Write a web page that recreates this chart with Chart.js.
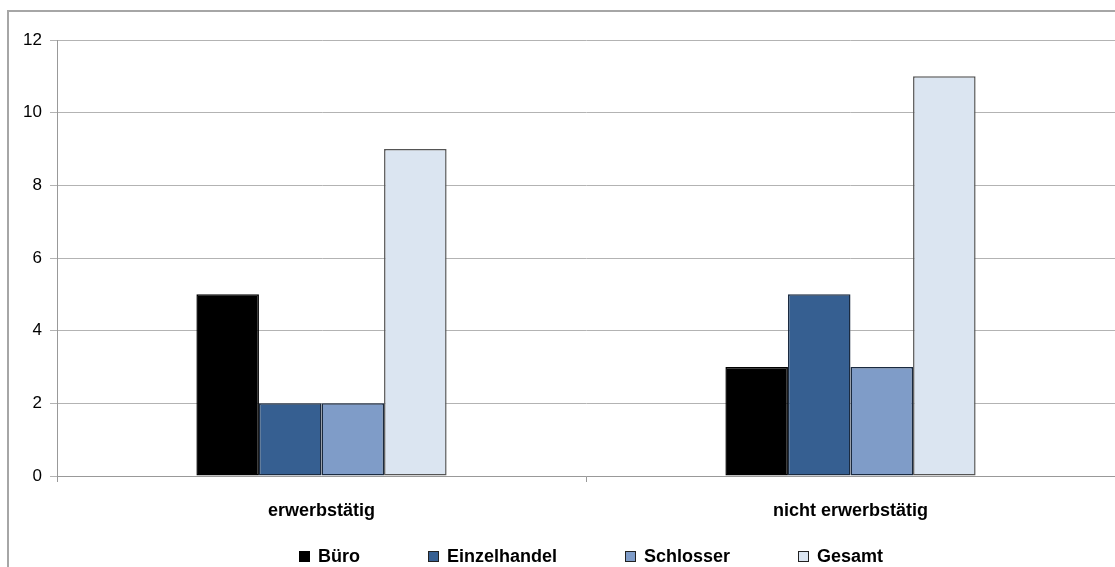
<!DOCTYPE html>
<html>
<head>
<meta charset="utf-8">
<script src="https://cdn.jsdelivr.net/npm/chart.js@4/dist/chart.umd.min.js"></script>
<style>
  html, body { margin: 0; padding: 0; background: #fff; overflow: hidden; }
  #wrap { position: relative; width: 1115px; height: 567px; overflow: hidden; }
  #frame { position: absolute; left: 7px; top: 10px; width: 1200px; height: 600px;
           border-left: 2px solid #a6a6a6; border-top: 2px solid #a6a6a6; }
  #chart { position: absolute; left: 0; top: 0; }
  #legend { position: absolute; left: 299px; top: 545px; display: flex; gap: 68px;
            font: bold 18px "Liberation Sans", Arial, sans-serif; color: #000; }
  #legend .item { display: flex; align-items: center; line-height: 22px; }
  #legend .box { width: 9px; height: 9px; border: 1px solid #222; margin-right: 8px; }
</style>
</head>
<body>
<div id="wrap">
  <div id="frame"></div>
  <canvas id="chart" width="1179" height="567"></canvas>
  <div id="legend"></div>
</div>
<script>
// Kategorien und Werte
const categories = ['erwerbstätig', 'nicht erwerbstätig'];
const seriesNames = ['Büro', 'Einzelhandel', 'Schlosser', 'Gesamt'];
const bueroValues = [5, 3];
const einzelhandelValues = [2, 5];
const schlosserValues = [2, 3];
const gesamtValues = [9, 11];
const yTicks = [0, 2, 4, 6, 8, 10, 12];

const fillColors = ['#000000', '#365f91', '#7f9cc8', '#dbe5f1'];
const edgeColors = ['#000000', '#1a2a40', '#1a2a40', '#555555'];

const allValues = [bueroValues, einzelhandelValues, schlosserValues, gesamtValues];
const FONT = '"Liberation Sans", Arial, sans-serif';

const datasets = seriesNames.map((name, i) => ({
  label: name,
  data: allValues[i],
  backgroundColor: fillColors[i],
  borderColor: edgeColors[i],
  borderWidth: 1.5,
  borderSkipped: false,
  barPercentage: 1,
  categoryPercentage: 0.473
}));

const chart = new Chart(document.getElementById('chart'), {
  type: 'bar',
  data: { labels: categories, datasets },
  options: {
    responsive: false,
    animation: false,
    devicePixelRatio: 1,
    layout: { padding: { top: 40, right: 64, left: 0, bottom: 0 } },
    plugins: { legend: { display: false }, tooltip: { enabled: false } },
    scales: {
      x: {
        offset: true,
        grid: { offset: true, drawOnChartArea: false, color: '#999', tickLength: 6 },
        border: { color: '#999', width: 1 },
        ticks: { color: '#000', padding: 18, font: { family: FONT, size: 18, weight: 'bold' } },
        afterFit: s => { s.height = 91; }
      },
      y: {
        min: 0, max: 12,
        afterBuildTicks: s => { s.ticks = yTicks.map(v => ({ value: v })); },
        grid: { color: '#b3b3b3', tickLength: 7 },
        border: { color: '#999', width: 1 },
        ticks: { color: '#000', padding: 8, font: { family: FONT, size: 17 } },
        afterFit: s => { s.width = 57; }
      }
    }
  }
});

// Legende als HTML
const legend = document.getElementById('legend');
chart.data.datasets.forEach(ds => {
  const item = document.createElement('div');
  item.className = 'item';
  item.innerHTML = `<span class="box" style="background:${ds.backgroundColor};border-color:${ds.borderColor === '#000000' ? '#000' : '#222'}"></span>${ds.label}`;
  legend.appendChild(item);
});
</script>
</body>
</html>
